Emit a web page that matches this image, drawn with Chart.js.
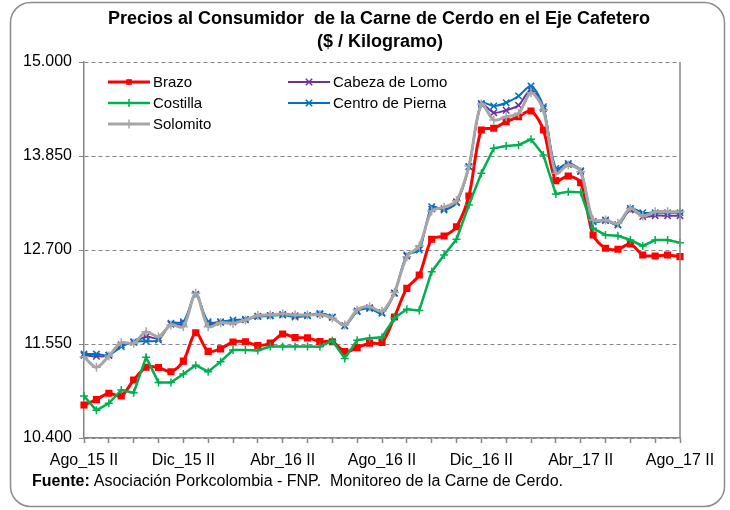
<!DOCTYPE html>
<html>
<head>
<meta charset="utf-8">
<script src="https://cdn.jsdelivr.net/npm/chart.js@4.4.0/dist/chart.umd.min.js"></script>
<style>
  html, body { margin: 0; padding: 0; background: #fff; }
  #wrap { position: relative; width: 730px; height: 510px; }
</style>
</head>
<body>
<div id="wrap"><canvas id="chart" width="730" height="510"></canvas></div>
<script>
// semi-monthly periods, Ago_15 II .. Ago_17 II
const categories = [
  'Ago_15 II', 'Sep_15 I', 'Sep_15 II', 'Oct_15 I', 'Oct_15 II', 'Nov_15 I', 'Nov_15 II', 'Dic_15 I', 'Dic_15 II',
  'Ene_16 I', 'Ene_16 II', 'Feb_16 I', 'Feb_16 II', 'Mar_16 I', 'Mar_16 II', 'Abr_16 I', 'Abr_16 II',
  'May_16 I', 'May_16 II', 'Jun_16 I', 'Jun_16 II', 'Jul_16 I', 'Jul_16 II', 'Ago_16 I', 'Ago_16 II',
  'Sep_16 I', 'Sep_16 II', 'Oct_16 I', 'Oct_16 II', 'Nov_16 I', 'Nov_16 II', 'Dic_16 I', 'Dic_16 II',
  'Ene_17 I', 'Ene_17 II', 'Feb_17 I', 'Feb_17 II', 'Mar_17 I', 'Mar_17 II', 'Abr_17 I', 'Abr_17 II',
  'May_17 I', 'May_17 II', 'Jun_17 I', 'Jun_17 II', 'Jul_17 I', 'Jul_17 II', 'Ago_17 I', 'Ago_17 II'
];
const tickLabels = ['Ago_15 II', 'Dic_15 II', 'Abr_16 II', 'Ago_16 II', 'Dic_16 II', 'Abr_17 II', 'Ago_17 II'];
const yTicks = [10400, 11550, 12700, 13850, 15000];

const brazo = [
  10804, 10870, 10947, 10914, 11110, 11265, 11262, 11211, 11340, 11688, 11460, 11490, 11575,
  11578, 11532, 11560, 11672, 11630, 11625, 11580, 11578, 11456, 11505, 11560, 11570,
  11880, 12231, 12394, 12831, 12871, 12985, 13361, 14168, 14189, 14270, 14331, 14401,
  14168, 13548, 13605, 13523, 12884, 12721, 12709, 12773, 12639, 12627, 12639, 12618
];
const cabezaLomo = [
  11410, 11400, 11410, 11540, 11570, 11640, 11620, 11790, 11800, 12160, 11800, 11815, 11820,
  11845, 11890, 11900, 11910, 11895, 11900, 11915, 11875, 11775, 11955, 11995, 11935,
  12175, 12625, 12720, 13200, 13205, 13290, 13720, 14480, 14380, 14410, 14470, 14660,
  14430, 13670, 13745, 13660, 13050, 13060, 13010, 13190, 13110, 13120, 13120, 13120
];
const costilla = [
  10914, 10738, 10824, 10987, 10954, 11387, 11080, 11078, 11183, 11290, 11211, 11334, 11477,
  11477, 11470, 11520, 11520, 11520, 11520, 11517, 11590, 11374, 11597, 11619, 11632,
  11868, 11974, 11960, 12435, 12639, 12831, 13251, 13638, 13944, 13972, 13985, 14054,
  13862, 13385, 13414, 13405, 12966, 12884, 12875, 12822, 12749, 12822, 12822, 12790
];
const centroPierna = [
  11428, 11428, 11415, 11517, 11578, 11585, 11599, 11803, 11823, 12150, 11823, 11823, 11844,
  11852, 11885, 11893, 11905, 11880, 11895, 11925, 11880, 11770, 11945, 11985, 11925,
  12170, 12639, 12700, 13230, 13189, 13278, 13719, 14494, 14462, 14502, 14584, 14706,
  14453, 13699, 13760, 13670, 13046, 13067, 13006, 13209, 13157, 13157, 13157, 13157
];
const solomito = [
  11395, 11265, 11403, 11566, 11558, 11700, 11640, 11783, 11762, 12170, 11762, 11811, 11803,
  11844, 11898, 11905, 11920, 11905, 11905, 11910, 11868, 11783, 11966, 12007, 11950,
  12180, 12618, 12749, 13177, 13222, 13303, 13727, 14486, 14290, 14331, 14372, 14625,
  14413, 13638, 13740, 13658, 13067, 13067, 13026, 13209, 13116, 13169, 13169, 13169
];

const FONT = '"Liberation Sans", Arial, sans-serif';
const AXIS_GREY = '#868686';

function fmt(v) {
  return String(v).replace(/\B(?=(\d{3})+(?!\d))/g, '.');
}

function marker(ctx, style, r, x, y, color, w) {
  ctx.save();
  ctx.strokeStyle = color;
  ctx.fillStyle = color;
  ctx.lineWidth = w;
  ctx.beginPath();
  if (style === 'rect') {
    const s = r * Math.SQRT1_2;
    ctx.fillRect(x - s, y - s, 2 * s, 2 * s);
  } else if (style === 'cross') {
    ctx.moveTo(x - r, y); ctx.lineTo(x + r, y);
    ctx.moveTo(x, y - r); ctx.lineTo(x, y + r);
    ctx.stroke();
  } else {
    const s = r * Math.SQRT1_2;
    ctx.moveTo(x - s, y - s); ctx.lineTo(x + s, y + s);
    ctx.moveTo(x - s, y + s); ctx.lineTo(x + s, y - s);
    ctx.stroke();
  }
  ctx.restore();
}

// frame, title, legend and source note
const decor = {
  id: 'decor',
  beforeDraw(chart) {
    const ctx = chart.ctx;
    ctx.save();
    ctx.fillStyle = '#fff';
    ctx.fillRect(0, 0, chart.width, chart.height);
    ctx.strokeStyle = '#8c8c8c';
    ctx.lineWidth = 1.5;
    ctx.beginPath();
    ctx.roundRect(10.5, 2.5, 714, 504, 20);
    ctx.stroke();
    ctx.restore();
  },
  afterDraw(chart) {
    const ctx = chart.ctx;
    const area = chart.chartArea;
    ctx.save();
    // right edge of the plot area
    ctx.strokeStyle = AXIS_GREY;
    ctx.lineWidth = 1.5;
    ctx.beginPath();
    ctx.moveTo(area.right, area.top);
    ctx.lineTo(area.right, area.bottom);
    ctx.stroke();

    // title
    ctx.fillStyle = '#000';
    ctx.textAlign = 'center';
    ctx.textBaseline = 'middle';
    ctx.font = 'bold 18px ' + FONT;
    ctx.fillText('Precios al Consumidor  de la Carne de Cerdo en el Eje Cafetero', 379, 19);
    ctx.fillText('($ / Kilogramo)', 380, 42);

    // legend
    const pos = [[108, 82], [288, 82], [108, 103], [288, 103], [108, 124]];
    ctx.textAlign = 'left';
    ctx.font = '15px ' + FONT;
    chart.data.datasets.forEach((ds, i) => {
      const [x, y] = pos[i];
      ctx.strokeStyle = ds.borderColor;
      ctx.lineWidth = ds.borderWidth;
      ctx.beginPath();
      ctx.moveTo(x, y);
      ctx.lineTo(x + 42, y);
      ctx.stroke();
      marker(ctx, ds.pointStyle, ds.pointRadius, x + 21, y, ds.borderColor, ds.pointBorderWidth);
      ctx.fillStyle = '#000';
      ctx.fillText(ds.label, x + 45, y + 1);
    });

    // source
    ctx.font = 'bold 16px ' + FONT;
    ctx.fillText('Fuente:', 32, 482);
    const w = ctx.measureText('Fuente:').width;
    ctx.font = '16px ' + FONT;
    ctx.fillText('Asociación Porkcolombia - FNP.  Monitoreo de la Carne de Cerdo.', 32 + w + 4, 482);
    ctx.restore();
  }
};

function series(label, data, color, width, style, radius, order, tension) {
  return {
    label: label,
    data: data,
    borderColor: color,
    backgroundColor: color,
    borderWidth: width,
    pointStyle: style,
    pointRadius: radius,
    pointBorderWidth: 1.5,
    pointBackgroundColor: color,
    pointBorderColor: color,
    tension: tension,
    order: order
  };
}

new Chart(document.getElementById('chart'), {
  type: 'line',
  data: {
    labels: categories,
    datasets: [
      series('Brazo', brazo, '#ff0000', 3, 'rect', 4, 4, 0.3),
      series('Cabeza de Lomo', cabezaLomo, '#7030a0', 2, 'crossRot', 4.5, 3, 0.3),
      series('Costilla', costilla, '#00b050', 2.5, 'cross', 4, 2, 0),
      series('Centro de Pierna', centroPierna, '#0070c0', 2, 'crossRot', 4.5, 1, 0.3),
      series('Solomito', solomito, '#a6a6a6', 3, 'cross', 4.5, 0, 0.3)
    ]
  },
  options: {
    responsive: false,
    animation: false,
    devicePixelRatio: 1,
    layout: { padding: { top: 62, right: 50, bottom: 42, left: 0 } },
    plugins: {
      legend: { display: false },
      title: { display: false },
      tooltip: { enabled: false }
    },
    scales: {
      x: {
        afterFit: (s) => { s.height = 30; },
        grid: {
          drawOnChartArea: false,
          tickLength: 5,
          tickWidth: 1.5,
          tickColor: (c) => (c.index % 2 === 0 ? AXIS_GREY : 'rgba(0,0,0,0)')
        },
        border: { color: AXIS_GREY, width: 1.5 },
        ticks: {
          autoSkip: false,
          maxRotation: 0,
          padding: 8,
          color: '#000',
          font: { family: FONT, size: 16 },
          callback: function (v) {
            const l = this.getLabelForValue(v);
            return tickLabels.includes(l) ? l : '';
          }
        }
      },
      y: {
        min: yTicks[0],
        max: yTicks[yTicks.length - 1],
        afterFit: (s) => { s.width = 84; },
        afterBuildTicks: (s) => { s.ticks = yTicks.map(v => ({ value: v })); },
        grid: {
          color: AXIS_GREY,
          lineWidth: 1,
          tickLength: 5,
          tickColor: AXIS_GREY
        },
        border: { color: AXIS_GREY, width: 1.5, dash: [4, 3] },
        ticks: {
          padding: 7,
          color: '#000',
          font: { family: FONT, size: 16 },
          callback: (v) => fmt(v)
        }
      }
    }
  },
  plugins: [decor]
});
</script>
</body>
</html>
